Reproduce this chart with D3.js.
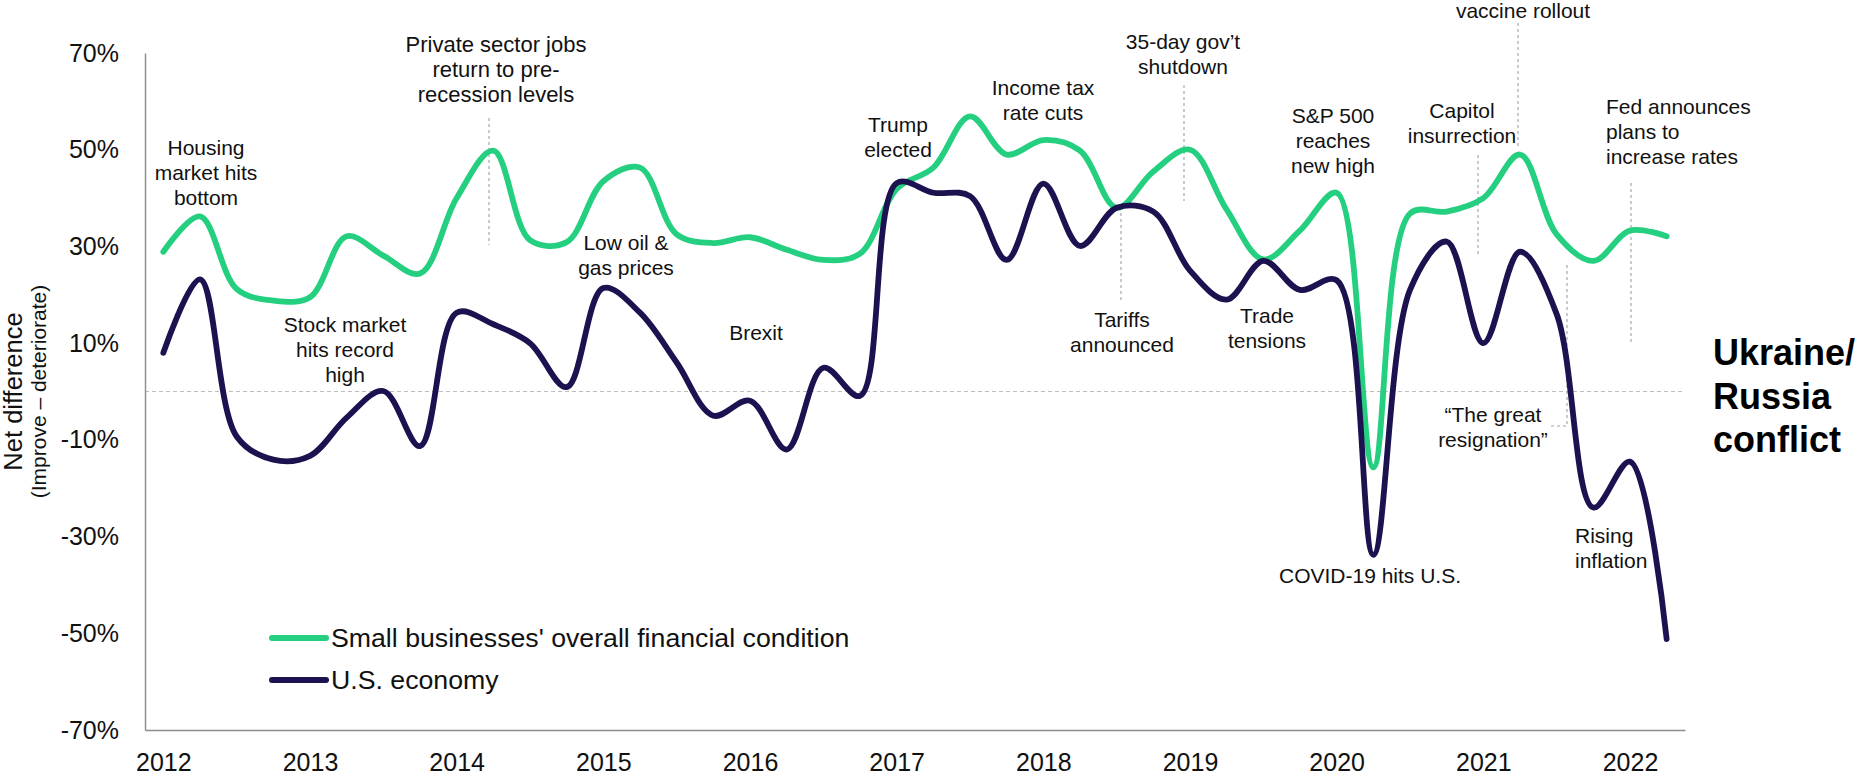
<!DOCTYPE html>
<html>
<head>
<meta charset="utf-8">
<script src="https://cdn.jsdelivr.net/npm/d3@7"></script>
<style>
  body { margin: 0; background: #fff; }
  svg { display: block; font-family: "Liberation Sans", Arial, sans-serif; }
</style>
</head>
<body>
<svg width="1864" height="779"></svg>
<script>
// Quarterly categories
const quarters = [
  "2012 Q1", "2012 Q2", "2012 Q3", "2012 Q4",
  "2013 Q1", "2013 Q2", "2013 Q3", "2013 Q4",
  "2014 Q1", "2014 Q2", "2014 Q3", "2014 Q4",
  "2015 Q1", "2015 Q2", "2015 Q3", "2015 Q4",
  "2016 Q1", "2016 Q2", "2016 Q3", "2016 Q4",
  "2017 Q1", "2017 Q2", "2017 Q3", "2017 Q4",
  "2018 Q1", "2018 Q2", "2018 Q3", "2018 Q4",
  "2019 Q1", "2019 Q2", "2019 Q3", "2019 Q4",
  "2020 Q1", "2020 Q2", "2020 Q3", "2020 Q4",
  "2021 Q1", "2021 Q2", "2021 Q3", "2021 Q4",
  "2022 Q1", "2022 Q2"
];

// Net difference (improve - deteriorate), %
const smallBusiness = [
  28.9, 36.2, 21.2, 18.8, 19.5, 32.1, 28.1, 24.4,
  40.0, 49.8, 31.3, 30.9, 43.5, 46.3, 32.5, 30.7,
  31.9, 29.3, 27.2, 28.5, 41.9, 46.3, 56.9, 49.0,
  52.0, 49.8, 38.0, 45.5, 50.0, 37.6, 27.3, 33.3,
  41.1, -15.7, 36.8, 37.2, 40.0, 49.0, 32.5, 27.0,
  33.3, 32.1
];
const usEconomy = [
  8.0, 23.2, -9.3, -14.1, -13.3, -5.4, 0.1, -11.3,
  16.3, 13.9, 10.0, 0.9, 21.4, 16.3, 6.0, -5.0,
  -1.9, -12.0, 4.9, -0.9, 43.1, 41.1, 40.4, 27.2,
  43.0, 30.1, 38.0, 37.2, 25.0, 19.0, 27.0, 21.0,
  23.0, -33.8, 21.0, 31.0, 10.0, 28.9, 16.0, -24.0,
  -14.5, -51.2
];

const yTicks = [-70, -50, -30, -10, 10, 30, 50, 70];
const seriesNames = ["Small businesses' overall financial condition", "U.S. economy"];
const seriesColors = ["#25cf80", "#1d1250"];

// event labels (text, anchor point in px)
const annotations = [
  { lines: ["Housing", "market hits", "bottom"], x: 206, y: 155 },
  { lines: ["Private sector jobs", "return to pre-", "recession levels"], x: 496, y: 52, size: 22 },
  { lines: ["Stock market", "hits record", "high"], x: 345, y: 332 },
  { lines: ["Low oil &", "gas prices"], x: 626, y: 250 },
  { lines: ["Brexit"], x: 756, y: 340 },
  { lines: ["Trump", "elected"], x: 898, y: 132 },
  { lines: ["Income tax", "rate cuts"], x: 1043, y: 95 },
  { lines: ["35-day gov\u2019t", "shutdown"], x: 1183, y: 49 },
  { lines: ["Tariffs", "announced"], x: 1122, y: 327 },
  { lines: ["Trade", "tensions"], x: 1267, y: 323 },
  { lines: ["S&P 500", "reaches", "new high"], x: 1333, y: 123 },
  { lines: ["COVID-19 hits U.S."], x: 1370, y: 583 },
  { lines: ["Capitol", "insurrection"], x: 1462, y: 118 },
  { lines: ["vaccine rollout"], x: 1523, y: 18 },
  { lines: ["Fed announces", "plans to", "increase rates"], x: 1606, y: 114, anchor: "start" },
  { lines: ["\u201cThe great", "resignation\u201d"], x: 1493, y: 422 },
  { lines: ["Rising", "inflation"], x: 1575, y: 543, anchor: "start" }
];

// dashed leader lines
const leaders = [
  [[489, 118], [489, 245]],
  [[1184, 85], [1184, 201]],
  [[1121, 207], [1121, 300]],
  [[1478, 155], [1478, 256]],
  [[1518, 23], [1518, 149]],
  [[1631, 183], [1631, 345]],
  [[1551, 426], [1567, 426], [1567, 264]]
];

const svg = d3.select("svg");

const x = d3.scalePoint()
    .domain(quarters)
    .range([145, 1685])
    .padding(0.5);

const y = d3.scaleLinear()
    .domain([-70, 70])
    .range([730, 53]);

// zero line
svg.append("line")
    .attr("x1", 145).attr("x2", 1685)
    .attr("y1", y(0)).attr("y2", y(0))
    .attr("stroke", "#bdbdbd")
    .attr("stroke-width", 1.2)
    .attr("stroke-dasharray", "4,3");

// axes
const yAxis = svg.append("g")
    .attr("transform", "translate(145,0)")
    .call(d3.axisLeft(y)
        .tickValues(yTicks)
        .tickFormat(d => d + "%")
        .tickSize(0)
        .tickSizeOuter(0)
        .tickPadding(26));

const xAxis = svg.append("g")
    .attr("transform", "translate(0,730)")
    .call(d3.axisBottom(x)
        .tickValues(quarters.filter(q => q.endsWith("Q1")))
        .tickFormat(q => q.slice(0, 4))
        .tickSize(0)
        .tickSizeOuter(0)
        .tickPadding(23));

[yAxis, xAxis].forEach(g => {
    g.select(".domain").attr("stroke", "#8c8c8c").attr("stroke-width", 1.4);
    g.selectAll("text")
        .attr("font-family", "Liberation Sans, Arial, sans-serif")
        .attr("font-size", 25)
        .attr("fill", "#111");
});

// y axis title, centred on the plot area
const midY = (y(70) + y(-70)) / 2;
svg.append("text")
    .attr("transform", `translate(22,${midY}) rotate(-90)`)
    .attr("text-anchor", "middle")
    .attr("font-size", 25.5)
    .attr("fill", "#111")
    .text("Net difference");

svg.append("text")
    .attr("transform", `translate(46,${midY}) rotate(-90)`)
    .attr("text-anchor", "middle")
    .attr("font-size", 21)
    .attr("fill", "#111")
    .text("(Improve \u2013 deteriorate)");

// leader lines
svg.append("g")
    .selectAll("path")
    .data(leaders)
    .join("path")
    .attr("d", d => d3.line()(d))
    .attr("fill", "none")
    .attr("stroke", "#a8a8a8")
    .attr("stroke-width", 1.2)
    .attr("stroke-dasharray", "3,3");

// series lines
const line = d3.line()
    .x((d, i) => x(quarters[i]))
    .y(d => y(d))
    .curve(d3.curveCatmullRom.alpha(0.5));

[smallBusiness, usEconomy].forEach((values, k) => {
    svg.append("path")
        .datum(values)
        .attr("d", line)
        .attr("fill", "none")
        .attr("stroke", seriesColors[k])
        .attr("stroke-width", 5.8)
        .attr("stroke-linejoin", "round")
        .attr("stroke-linecap", "round");
});

// annotations
const ann = svg.append("g")
    .attr("font-size", 21)
    .attr("fill", "#111");

annotations.forEach(a => {
    const t = ann.append("text")
        .attr("text-anchor", a.anchor || "middle");
    if (a.size) t.attr("font-size", a.size);
    a.lines.forEach((s, j) => {
        t.append("tspan")
            .attr("x", a.x)
            .attr("y", a.y + j * 25)
            .text(s);
    });
});

// big callout
const callout = svg.append("text")
    .attr("font-size", 36)
    .attr("font-weight", "bold")
    .attr("fill", "#000");
["Ukraine/", "Russia", "conflict"].forEach((s, j) => {
    callout.append("tspan")
        .attr("x", 1713)
        .attr("y", 365 + j * 43.5)
        .text(s);
});

// legend
const legend = svg.append("g");
seriesNames.forEach((name, k) => {
    const ly = 638 + k * 42;
    legend.append("line")
        .attr("x1", 272).attr("x2", 326)
        .attr("y1", ly).attr("y2", ly)
        .attr("stroke", seriesColors[k])
        .attr("stroke-width", 6)
        .attr("stroke-linecap", "round");
    legend.append("text")
        .attr("x", 331)
        .attr("y", ly + 9)
        .attr("font-size", 26.7)
        .attr("fill", "#111")
        .text(name);
});
</script>
</body>
</html>
